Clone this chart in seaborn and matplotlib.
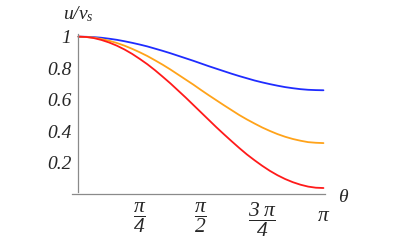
import numpy as np
import pandas as pd
import matplotlib
matplotlib.use("Agg")
import matplotlib.pyplot as plt
from matplotlib.ticker import MultipleLocator
import seaborn as sns

theta_steps = list(range(33))
blue_vals = [1.000, 0.999, 0.997, 0.993, 0.987, 0.980, 0.971, 0.961, 0.950,
             0.938, 0.924, 0.910, 0.895, 0.879, 0.863, 0.847, 0.830,
             0.813, 0.797, 0.781, 0.765, 0.750, 0.736, 0.722, 0.710,
             0.699, 0.689, 0.680, 0.673, 0.667, 0.663, 0.661, 0.660]
orange_vals = [1.000, 0.998, 0.994, 0.985, 0.974, 0.960, 0.943, 0.923, 0.901,
               0.877, 0.850, 0.822, 0.792, 0.760, 0.728, 0.696, 0.662,
               0.629, 0.597, 0.565, 0.534, 0.503, 0.475, 0.449, 0.424,
               0.402, 0.382, 0.365, 0.351, 0.340, 0.331, 0.327, 0.325]
red_vals = [1.000, 0.998, 0.991, 0.979, 0.963, 0.943, 0.919, 0.891, 0.859,
            0.825, 0.787, 0.746, 0.704, 0.659, 0.614, 0.567, 0.520,
            0.473, 0.426, 0.381, 0.337, 0.294, 0.253, 0.216, 0.181,
            0.149, 0.121, 0.097, 0.077, 0.061, 0.049, 0.042, 0.040]

curve_names = ["blue", "orange", "red"]
curve_colors = ["#1f2cff", "#ffa31a", "#ff1a1a"]

x_tick_pos = [1, 2, 3, 4]  # in units of pi/4
x_tick_labels = [r"$\dfrac{\pi}{4}$", r"$\dfrac{\pi}{2}$", r"$\dfrac{3\;\pi}{4}$", r"$\pi$"]
y_tick_pos = [0.2, 0.4, 0.6, 0.8, 1.0]
y_tick_labels = ["0.2", "0.4", "0.6", "0.8", "1"]

theta = np.array(theta_steps) * np.pi / 32
df = pd.concat([
    pd.DataFrame({"theta": theta, "ratio": vals, "curve": name})
    for name, vals in zip(curve_names, [blue_vals, orange_vals, red_vals])
])

sns.set_theme(style="white")
plt.rcParams["font.family"] = ["Liberation Serif", "DejaVu Serif"]
plt.rcParams["mathtext.fontset"] = "custom"
plt.rcParams["mathtext.it"] = "Liberation Serif:italic"
plt.rcParams["mathtext.rm"] = "Liberation Serif:italic"
plt.rcParams["mathtext.cal"] = "Liberation Serif:italic"

fig = plt.figure(figsize=(3.98, 2.46), dpi=100)
ax = fig.add_axes([72 / 398, 1 - 195.9 / 246, 253 / 398, (195.9 - 33.5) / 246])

sns.lineplot(data=df, x="theta", y="ratio", hue="curve", hue_order=curve_names,
             palette=curve_colors, linewidth=1.3, legend=False, ax=ax)

ax.set_xlim(-0.083, np.pi + 0.02)
ax.set_ylim(-0.01, 1.02)
ax.set_xlabel("")
ax.set_ylabel("")

gray = "#8a8a8a"
for s in ["top", "right"]:
    ax.spines[s].set_visible(False)
ax.spines["left"].set_position(("data", 0))
ax.spines["bottom"].set_position(("data", 0))
ax.spines["left"].set_bounds(0.015, 1.02)
for s in ["left", "bottom"]:
    ax.spines[s].set_color(gray)
    ax.spines[s].set_linewidth(0.9)

ax.set_xticks(np.array(x_tick_pos) * np.pi / 4)
ax.set_xticklabels(x_tick_labels)
ax.set_yticks(y_tick_pos)
ax.set_yticklabels(y_tick_labels, fontstyle="italic")
ax.yaxis.set_minor_locator(MultipleLocator(0.05))

ax.tick_params(axis="both", which="both", direction="in", color=gray, width=0.6)
ax.tick_params(axis="y", which="major", length=4, labelsize=14, pad=5)
ax.tick_params(axis="y", which="minor", length=2)
ax.tick_params(axis="x", which="major", length=3, labelsize=15.5, pad=4.5)
ax.xaxis.get_major_ticks()[-1].set_pad(9)

fig.text(63 / 398, 1 - 19 / 246, r"$u/v_s$", fontsize=14, ha="left", va="baseline")
fig.text(344 / 398, 1 - 197 / 246, r"$\theta$", fontsize=14, ha="center", va="center")

fig.savefig("out.png", dpi=100)
